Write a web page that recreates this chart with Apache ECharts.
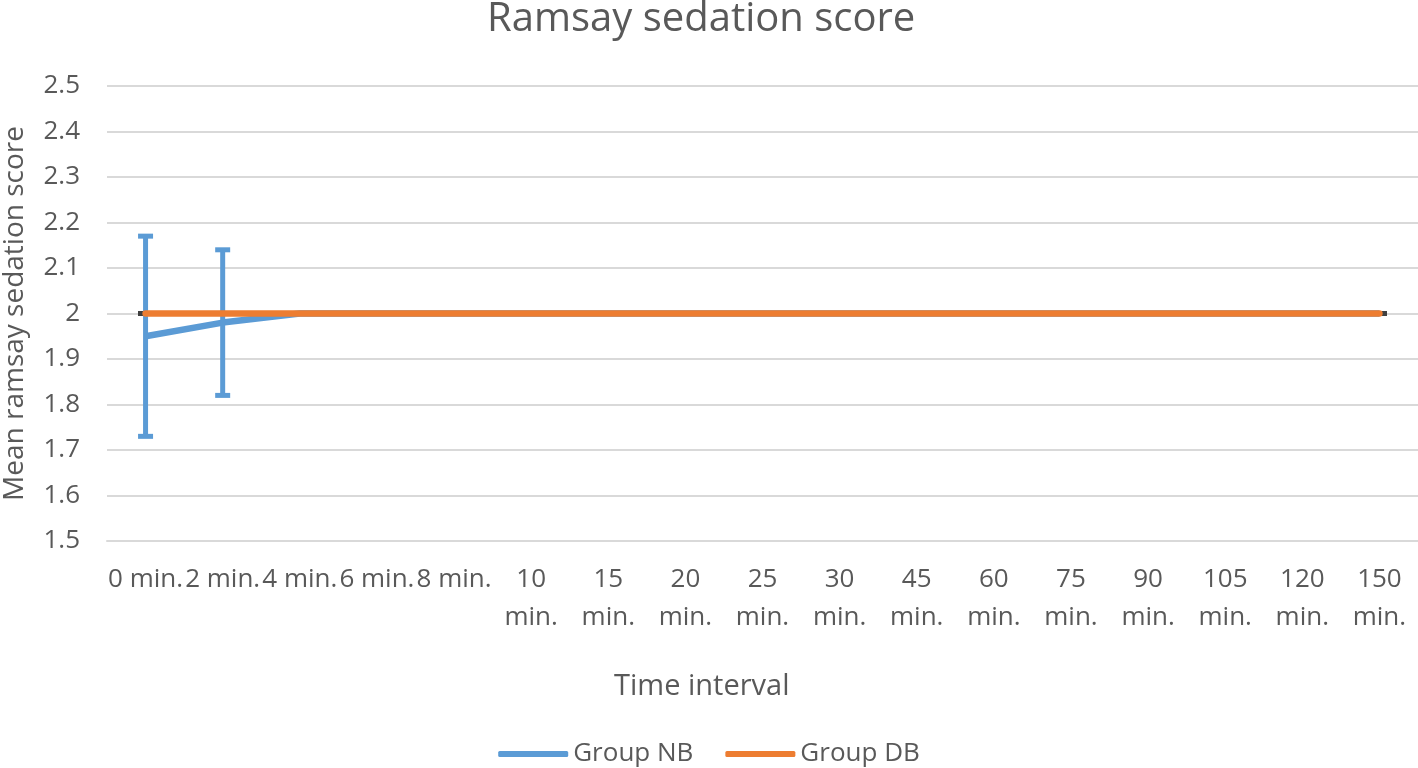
<!DOCTYPE html>
<html><head><meta charset="utf-8">
<script src="https://cdn.jsdelivr.net/npm/echarts@6/dist/echarts.min.js"></script>
<style>html,body{margin:0;padding:0;background:#fff}#c{width:1418px;height:768px}</style>
</head><body><div id="c"></div>
<script>
var categories = ["0 min.","2 min.","4 min.","6 min.","8 min.","10\nmin.","15\nmin.","20\nmin.","25\nmin.","30\nmin.","45\nmin.","60\nmin.","75\nmin.","90\nmin.","105\nmin.","120\nmin.","150\nmin."];
var groupNB = [1.95,1.98,2,2,2,2,2,2,2,2,2,2,2,2,2,2,2];
var groupDB = [2,2,2,2,2,2,2,2,2,2,2,2,2,2,2,2,2];
var nbErrLow = [1.73,1.82];
var nbErrHigh = [2.17,2.14];
var dbErrIdx = [0,16];
var yTicks = [1.5,1.6,1.7,1.8,1.9,2,2.1,2.2,2.3,2.4,2.5];

var errData = nbErrLow.map(function(l,i){return [i,l,nbErrHigh[i]];});
var dbErrData = dbErrIdx.map(function(i){return [i,groupDB[i],groupDB[i]];});
var F = '"Open Sans", sans-serif';
function errRender(color){
  return function(params,api){
    var a=api.coord([api.value(0),api.value(1)]);
    var b=api.coord([api.value(0),api.value(2)]);
    var cx=a[0], w=7.5;
    var st={stroke:color,lineWidth:5};
    return {type:'group',children:[
      {type:'line',shape:{x1:cx,y1:a[1],x2:cx,y2:b[1]},style:st},
      {type:'line',shape:{x1:cx-w,y1:a[1],x2:cx+w,y2:a[1]},style:st},
      {type:'line',shape:{x1:cx-w,y1:b[1],x2:cx+w,y2:b[1]},style:st}
    ]};
  };
}
var chart = echarts.init(document.getElementById('c'));
chart.setOption({
  animation:false,
  title:[
    {text:'Ramsay sedation score',left:482,top:-5,textStyle:{fontFamily:F,fontSize:40,fontWeight:'normal',color:'#595959'}},
    {text:'Time interval',left:609,top:667,textStyle:{fontFamily:F,fontSize:29,fontWeight:'normal',color:'#595959'}}
  ],
  grid:{left:107,right:0,top:86,bottom:227,containLabel:false,outerBoundsMode:'none'},
  legend:{top:736,left:'center',itemWidth:70,itemHeight:6,itemGap:32,icon:'roundRect',
    textStyle:{fontFamily:F,fontSize:26,color:'#595959'},
    data:['Group NB','Group DB']},
  xAxis:{type:'category',data:categories,boundaryGap:true,
    axisLine:{lineStyle:{color:'#D9D9D9',width:2}},axisTick:{show:false},
    axisLabel:{interval:0,fontFamily:F,fontSize:26,color:'#595959',margin:20,lineHeight:38,hideOverlap:false}},
  yAxis:{type:'value',min:1.5,max:2.5,interval:0.1,
    name:'Mean ramsay sedation score',nameLocation:'middle',nameGap:92,
    nameTextStyle:{fontFamily:F,fontSize:28,color:'#595959',verticalAlign:'middle'},
    axisLine:{show:false},axisTick:{show:false},
    splitLine:{lineStyle:{color:'#D9D9D9',width:2}},
    axisLabel:{fontFamily:F,fontSize:26,color:'#595959',margin:27,
      formatter:function(v){return String(Math.round(v*10)/10);}}},
  series:[
    {name:'Group NB',type:'line',data:groupNB,symbol:'none',z:3,
      lineStyle:{color:'#5B9BD5',width:6.5},itemStyle:{color:'#5B9BD5'}},
    {name:'NB err',type:'custom',z:4,data:errData,renderItem:errRender('#5B9BD5')},
    {name:'DB err',type:'custom',z:4,data:dbErrData,renderItem:errRender('#404040')},
    {name:'Group DB',type:'line',data:groupDB,symbol:'none',z:5,
      lineStyle:{color:'#ED7D31',width:6.5,cap:'round'},itemStyle:{color:'#ED7D31'}}
  ]
});
</script></body></html>
